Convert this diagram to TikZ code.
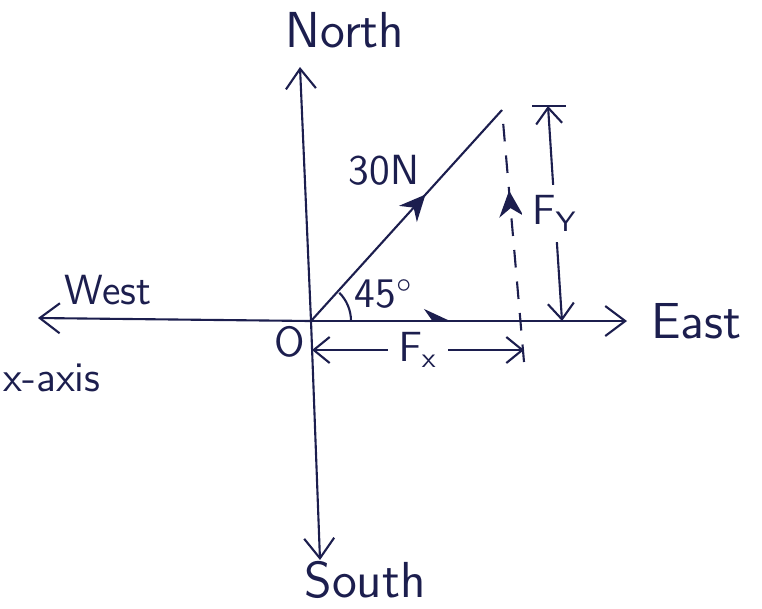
\documentclass[tikz,border=0pt]{standalone}
\usepackage{xcolor}
\usepackage{tikz}
\usetikzlibrary{positioning,calc,arrows.meta,decorations.markings}
\definecolor{ink}{HTML}{1C1E4E}
\tikzset{
  % --- axes and vectors ---
  axis/.style={semithick, draw=ink, -{Straight Barb[length=2mm,width=3mm]}},
  vec/.style={semithick, draw=ink, postaction={decorate},
              decoration={markings, mark=at position #1 with
                          {\arrow[ink]{Stealth[length=2.6mm,width=2.4mm]}}}},
  vec/.default=0.6,
  compdash/.style={vec=#1, dash pattern=on 5pt off 4pt},
  % --- dimension lines ---
  dimline/.style={semithick, draw=ink,
                  {Straight Barb[length=1.6mm,width=2.6mm]}-{Straight Barb[length=1.6mm,width=2.6mm]}},
  dimtick/.style={semithick, draw=ink},
  % --- labels ---
  lbl/.style={font=\sffamily\large, text=ink, inner sep=1pt},
  biglbl/.style={lbl, font=\sffamily\Large},
  dimlbl/.style={lbl, fill=white, inner sep=3pt},
}
\begin{document}
\begin{tikzpicture}[x=0.1mm, y=-0.1mm]
  \useasboundingbox (0,0) rectangle (762,608);
  % axes
  \coordinate (O) at (311,321);
  \coordinate (N) at (300,67);
  \coordinate (S) at (320,560);
  \coordinate (W) at (38,318);
  \coordinate (E) at (627,321);
  \draw[axis] (O) -- (N);
  \draw[axis] (O) -- (S);
  \draw[axis] (O) -- (W);
  \draw[axis, postaction={decorate}, decoration={markings, mark=at position 0.44 with
        {\arrow[ink]{Stealth[length=2.6mm,width=2.4mm]}}}] (O) -- (E);
  \node[biglbl] (north) at (345,30) {North};
  \node[biglbl] (south) at (365,580) {South};
  \node[lbl] (west) at (108,290) {West};
  \node[biglbl, right=2mm of E] (east) {East};
  \node[lbl] (onode) at (290,342) {O};
  \node[lbl] (xaxis) at (52,378) {x-axis};
  % the 30 N force and its components
  \coordinate (P) at (502,110);
  \coordinate (D) at (524,362);
  \draw[vec=0.6] (O) -- (P);
  \node[lbl] (force) at (384,170) {30N};
  \draw[compdash=0.68] (D) -- (P);
  % angle
  \draw[semithick, ink] ($(O)+(40,0)$) arc[start angle=0, end angle=-45, radius=40];
  \node[lbl] (angle) at (384,294) {45$^{\circ}$};
  % F_x dimension
  \coordinate (fxl) at (312,350);
  \coordinate (fxr) at (524,350);
  \draw[dimline] (fxl) -- node[dimlbl] (fx) {$\mathsf{F_x}$} (fxr);
  % F_y dimension
  \coordinate (fyt) at (548,106);
  \coordinate (fyb) at (562,321);
  \draw[dimtick] ($(fyt)+(-16,0)$) -- ($(fyt)+(18,0)$);
  \draw[dimline] (fyt) -- node[dimlbl] (fy) {$\mathsf{F_Y}$} (fyb);
\end{tikzpicture}
\end{document}
